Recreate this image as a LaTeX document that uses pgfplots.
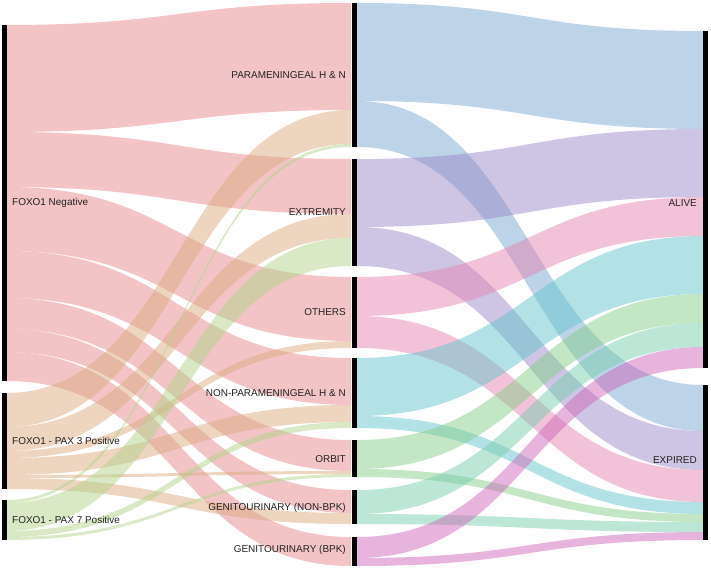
\documentclass[border=0pt]{standalone}
\usepackage{pgfplots}
\usepackage{pgfplotstable}
\pgfplotsset{compat=1.18}
\usepackage{fontspec}
\setmainfont{Liberation Sans}
\definecolor{cN}{RGB}{229,137,141}
\definecolor{cPiii}{RGB}{219,171,129}
\definecolor{cPvii}{RGB}{179,211,139}
\definecolor{cPara}{RGB}{121,167,209}
\definecolor{cExt}{RGB}{155,139,199}
\definecolor{cOth}{RGB}{229,133,177}
\definecolor{cNP}{RGB}{103,197,205}
\definecolor{cOrb}{RGB}{135,205,139}
\definecolor{cGUN}{RGB}{121,205,173}
\definecolor{cGUB}{RGB}{205,105,185}
\definecolor{lbl}{RGB}{34,34,34}

% flows: source x, target x, source top, target top, width (px units), colour
\pgfplotstableread{
xs xt ys yt w col
6 351 25 3 107 cN
6 351 132 159 55 cN
6 351 187 277 64 cN
6 351 251 358 47 cN
6 351 298 440 31 cN
6 351 329 490 23 cN
6 351 352 537 29 cN
6 351 393 110 34 cPiii
6 351 427 214 24 cPiii
6 351 451 341 7 cPiii
6 351 458 405 17 cPiii
6 351 475 471 3 cPiii
6 351 478 513 11 cPiii
6 351 500 144 3 cPvii
6 351 503 238 28 cPvii
6 351 531 422 6 cPvii
6 351 537 474 3 cPvii
357 703 3 31 98 cPara
357 703 101 385 46 cPara
357 703 159 129 68 cExt
357 703 227 431 39 cExt
357 703 277 197 39 cOth
357 703 316 470 32 cOth
357 703 358 236 58 cNP
357 703 416 502 12 cNP
357 703 440 294 29 cOrb
357 703 469 514 8 cOrb
357 703 490 323 24 cGUN
357 703 514 522 10 cGUN
357 703 537 347 21 cGUB
357 703 558 532 8 cGUB
}\links
\pgfplotstablegetrowsof{\links}
\pgfmathtruncatemacro{\nlinks}{\pgfplotsretval-1}

\begin{document}
\begin{tikzpicture}
\begin{axis}[
  scale only axis, width=711bp, height=567bp,
  xmin=0, xmax=711, ymin=0, ymax=567, y dir=reverse,
  axis line style={draw=none}, ticks=none, clip=false,
]
\pgfplotsinvokeforeach{0,...,\nlinks}{
  \pgfplotstablegetelem{#1}{xs}\of\links \let\lxs\pgfplotsretval
  \pgfplotstablegetelem{#1}{xt}\of\links \let\lxt\pgfplotsretval
  \pgfplotstablegetelem{#1}{ys}\of\links \let\lys\pgfplotsretval
  \pgfplotstablegetelem{#1}{yt}\of\links \let\lyt\pgfplotsretval
  \pgfplotstablegetelem{#1}{w}\of\links \let\lw\pgfplotsretval
  \pgfplotstablegetelem{#1}{col}\of\links \let\lcol\pgfplotsretval
  \pgfmathsetmacro\lxm{(\lxs+\lxt)/2}
  \pgfmathsetmacro\lyse{\lys+\lw}
  \pgfmathsetmacro\lyte{\lyt+\lw}
  \edef\temp{\noexpand\fill[\lcol, fill opacity=0.5]
    (axis cs:\lxs,\lys) .. controls (axis cs:\lxm,\lys) and (axis cs:\lxm,\lyt) .. (axis cs:\lxt,\lyt)
    -- (axis cs:\lxt,\lyte) .. controls (axis cs:\lxm,\lyte) and (axis cs:\lxm,\lyse) .. (axis cs:\lxs,\lyse) -- cycle;}
  \temp
}
% node bars
\addplot[black, line width=5bp] coordinates {(4,25) (4,381)};
\addplot[black, line width=5bp] coordinates {(4,393) (4,489)};
\addplot[black, line width=5bp] coordinates {(4,500) (4,540)};
\addplot[black, line width=5bp] coordinates {(354,3) (354,147)};
\addplot[black, line width=5bp] coordinates {(354,159) (354,266)};
\addplot[black, line width=5bp] coordinates {(354,277) (354,348)};
\addplot[black, line width=5bp] coordinates {(354,358) (354,428)};
\addplot[black, line width=5bp] coordinates {(354,440) (354,477)};
\addplot[black, line width=5bp] coordinates {(354,490) (354,524)};
\addplot[black, line width=5bp] coordinates {(354,537) (354,566)};
\addplot[black, line width=5bp] coordinates {(705.5,31) (705.5,368)};
\addplot[black, line width=5bp] coordinates {(705.5,385) (705.5,540)};
% labels
\begin{scope}[every node/.style={font=\fontsize{10}{12}\selectfont, text=lbl, inner sep=0pt}]
\node[anchor=west] at (axis cs:12,203) {FOXO1 Negative};
\node[anchor=west] at (axis cs:12,441) {FOXO1 - PAX 3 Positive};
\node[anchor=west] at (axis cs:12,520) {FOXO1 - PAX 7 Positive};
\node[anchor=east] at (axis cs:346,75) {PARAMENINGEAL H \& N};
\node[anchor=east] at (axis cs:346,212) {EXTREMITY};
\node[anchor=east] at (axis cs:346,312) {OTHERS};
\node[anchor=east] at (axis cs:346,393) {NON-PARAMENINGEAL H \& N};
\node[anchor=east] at (axis cs:346,459) {ORBIT};
\node[anchor=east] at (axis cs:346,508) {GENITOURINARY (NON-BPK)};
\node[anchor=east] at (axis cs:346,550) {GENITOURINARY (BPK)};
\node[anchor=east] at (axis cs:697,203) {ALIVE};
\node[anchor=east] at (axis cs:697,460) {EXPIRED};
\end{scope}
\end{axis}
\end{tikzpicture}
\end{document}
